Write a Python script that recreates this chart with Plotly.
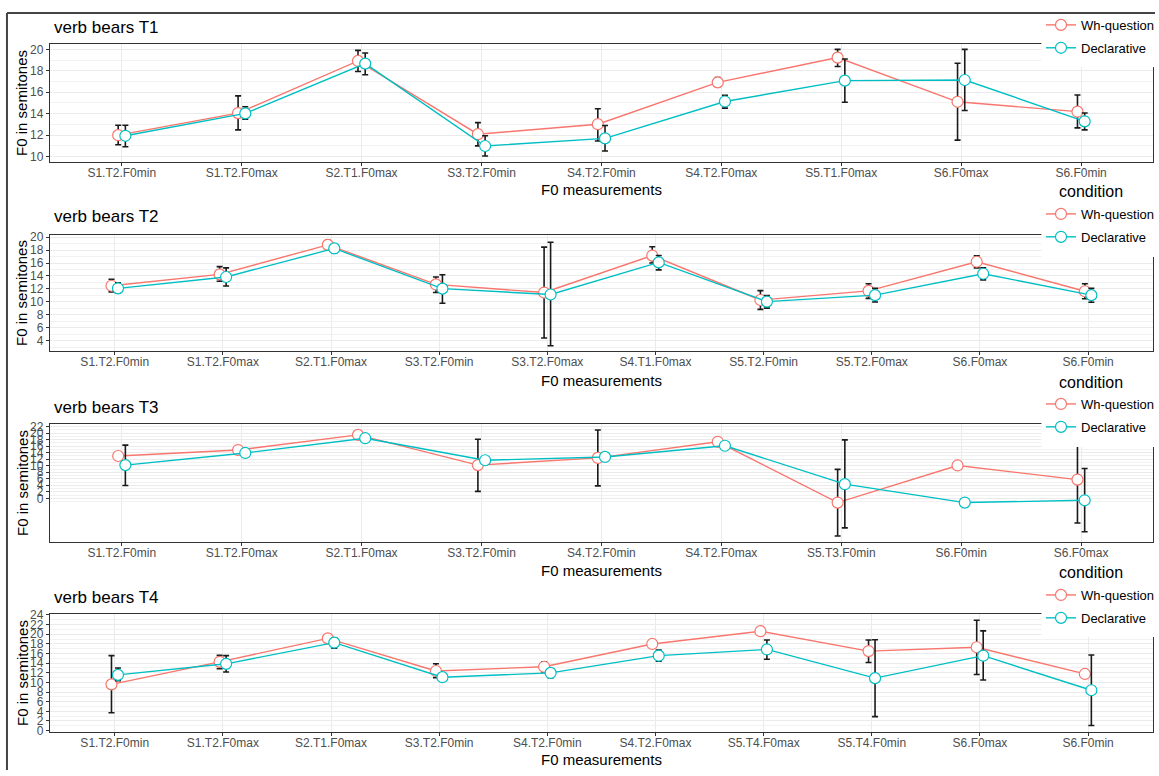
import plotly.graph_objects as go

# ---------------- data ----------------
series_names = ["Wh-question", "Declarative"]

cats1 = ["S1.T2.F0min", "S1.T2.F0max", "S2.T1.F0max", "S3.T2.F0min", "S4.T2.F0min",
         "S4.T2.F0max", "S5.T1.F0max", "S6.F0max", "S6.F0min"]
wh1 = [12.0, 14.06, 18.92, 12.09, 13.02, 16.92, 19.23, 15.11, 14.19]
wh1_hi = [12.92, 15.66, 19.9, 13.17, 14.46, 17.38, 20.0, 18.7, 15.75]
wh1_lo = [11.1, 12.49, 17.93, 11.0, 11.45, 16.52, 18.4, 11.54, 12.68]
de1 = [11.94, 14.03, 18.67, 10.99, 11.70, 15.14, 17.08, 17.14, 13.29]
de1_hi = [12.92, 14.65, 19.66, 11.94, 12.9, 15.72, 19.1, 20.0, 14.06]
de1_lo = [10.92, 13.48, 17.63, 10.06, 10.53, 14.52, 15.07, 14.3, 12.49]

cats2 = ["S1.T2.F0min", "S1.T2.F0max", "S2.T1.F0max", "S3.T2.F0min", "S3.T2.F0max",
         "S4.T1.F0max", "S5.T2.F0min", "S5.T2.F0max", "S6.F0max", "S6.F0min"]
wh2 = [12.5, 14.25, 18.8, 12.7, 11.45, 17.15, 10.3, 11.7, 16.2, 11.65]
wh2_hi = [13.5, 15.45, 19.5, 13.85, 18.45, 18.5, 11.75, 12.8, 17.1, 12.8]
wh2_lo = [11.55, 13.2, 18.1, 11.45, 4.45, 16.0, 8.85, 10.55, 15.25, 10.5]
de2 = [12.1, 13.85, 18.25, 12.05, 11.15, 16.1, 10.05, 11.05, 14.35, 11.05]
de2_hi = [12.95, 15.25, 18.75, 14.2, 19.2, 17.15, 11.0, 12.1, 15.25, 12.1]
de2_lo = [11.35, 12.45, 17.5, 9.8, 3.25, 14.95, 9.05, 10.0, 13.4, 9.95]

cats3 = ["S1.T2.F0min", "S1.T2.F0max", "S2.T1.F0max", "S3.T2.F0min", "S4.T2.F0min",
         "S4.T2.F0max", "S5.T3.F0min", "S6.F0min", "S6.F0max"]
wh3 = [13.0, 14.83, 19.48, 10.2, 12.41, 17.36, -1.31, 10.09, 5.75]
wh3_hi = [None, 16.0, None, 18.16, 20.99, None, 8.88, None, 19.07]
wh3_lo = [None, 13.7, None, 2.12, 3.83, None, -11.6, None, -7.57]
de3 = [10.2, 13.93, 18.47, 11.7, 12.71, 16.15, 4.34, -1.31, -0.61]
de3_hi = [16.35, None, None, None, None, None, 17.96, None, 9.18]
de3_lo = [3.94, None, None, None, None, None, -9.08, None, -10.29]

cats4 = ["S1.T2.F0min", "S1.T2.F0max", "S2.T1.F0max", "S3.T2.F0min", "S4.T2.F0min",
         "S4.T2.F0max", "S5.T4.F0max", "S5.T4.F0min", "S6.F0max", "S6.F0min"]
wh4 = [9.6, 14.27, 19.13, 12.37, 13.25, 17.98, 20.62, 16.5, 17.3, 11.76]
wh4_hi = [15.55, 15.6, 19.95, 13.86, 14.27, None, 21.3, 18.8, 22.9, None]
wh4_lo = [3.72, 12.85, 18.3, 11.0, 12.17, None, 19.95, 14.13, 11.63, None]
de4 = [11.56, 13.86, 18.26, 11.09, 11.97, 15.55, 16.84, 10.89, 15.55, 8.38]
de4_hi = [12.98, 15.55, 19.27, 11.8, 12.85, 16.7, 18.8, 18.86, 20.7, 15.7]
de4_lo = [10.34, 12.17, 17.1, 10.5, 11.0, 14.4, 14.8, 2.9, 10.5, 1.08]

titles = ["verb bears T1", "verb bears T2", "verb bears T3", "verb bears T4"]
y_major = [list(range(10, 21, 2)), list(range(4, 21, 2)), list(range(0, 23, 2)), list(range(0, 25, 2))]
y_minor = [list(range(11, 20, 2)), list(range(3, 20, 2)), list(range(-1, 22, 2)), list(range(1, 24, 2))]
y_ranges = [[9.54, 20.46], [2.5, 20.26], [-13.3, 22.7], [-0.2, 24.1]]

# ---------------- style / layout ----------------
W, H = 1159, 776
RED, TEAL = "#F8766D", "#00BFC4"
FONT = "Liberation Sans, Arial, sans-serif"
GRID = "#EBEBEB"
XL, XR = 50, 1157
panel_px = [  # top, bottom, title_y, xlabel_y, legend_first_entry_y, legend_box_top, legend_box_bottom
    (39, 158, 22, 186, 22, 9, 62),
    (233, 350, 214, 380, 214, 202, 255),
    (425, 544, 408, 573, 407, 395, 448),
    (618, 737, 601, 765, 601, 589, 641),
]
DODGE = 0.03
LEG_X = 1045

panels = [
    (cats1, wh1, wh1_hi, wh1_lo, de1, de1_hi, de1_lo),
    (cats2, wh2, wh2_hi, wh2_lo, de2, de2_hi, de2_lo),
    (cats3, wh3, wh3_hi, wh3_lo, de3, de3_hi, de3_lo),
    (cats4, wh4, wh4_hi, wh4_lo, de4, de4_hi, de4_lo),
]

fig = go.Figure()
layout = dict(width=W, height=H, margin=dict(l=0, r=0, t=0, b=0),
              paper_bgcolor="white", plot_bgcolor="white",
              font=dict(family=FONT, color="black"), showlegend=True)
annotations = []
shapes = []


def px_x(p):
    return p / W


def px_y(p):
    return 1 - p / H


for k, (cats, wh, wh_hi, wh_lo, de, de_hi, de_lo) in enumerate(panels):
    sfx = "" if k == 0 else str(k + 1)
    top, bot, ty, xly, lge, lgt, lgb = panel_px[k]
    n = len(cats)
    idx = list(range(n))
    for name, color, vals, hi, lo, off in [
        (series_names[0], RED, wh, wh_hi, wh_lo, -DODGE),
        (series_names[1], TEAL, de, de_hi, de_lo, DODGE),
    ]:
        xs = [i + off for i in idx]
        keep = [i for i in idx if hi[i] is not None]
        # error bars (drawn beneath points)
        fig.add_trace(go.Scatter(
            x=[xs[i] for i in keep], y=[vals[i] for i in keep],
            xaxis="x" + sfx, yaxis="y" + sfx, mode="markers",
            marker=dict(size=1, opacity=0), showlegend=False, hoverinfo="skip",
            error_y=dict(type="data", symmetric=False,
                         array=[hi[i] - vals[i] for i in keep],
                         arrayminus=[vals[i] - lo[i] for i in keep],
                         color="#1a1a1a", thickness=1.6, width=3),
        ))
        fig.add_trace(go.Scatter(
            x=xs, y=vals, xaxis="x" + sfx, yaxis="y" + sfx,
            name=name, legend="legend" + sfx, legendgroup=f"{name}{k}",
            mode="lines+markers",
            line=dict(color=color, width=1.4),
            marker=dict(symbol="circle", size=11, color="white",
                        line=dict(color=color, width=1.2)),
        ))
    layout["xaxis" + sfx] = dict(
        domain=[px_x(XL), px_x(XR)], anchor="y" + sfx,
        range=[-0.6, n - 0.4], tickmode="array", tickvals=idx, ticktext=cats,
        showgrid=True, gridcolor=GRID, gridwidth=1.2, zeroline=False,
        showline=True, mirror=True, linecolor="#333333", linewidth=1.2,
        ticks="outside", ticklen=3, tickcolor="#333333",
        tickfont=dict(size=12, color="#4D4D4D"), ticklabelstandoff=-3,
    )
    layout["yaxis" + sfx] = dict(
        domain=[px_y(bot), px_y(top)], anchor="x" + sfx,
        range=y_ranges[k], tickmode="array", tickvals=y_major[k],
        showgrid=True, gridcolor=GRID, gridwidth=1.2, zeroline=False,
        showline=True, mirror=True, linecolor="#333333", linewidth=1.2,
        ticks="outside", ticklen=3, tickcolor="#333333",
        tickfont=dict(size=12, color="#4D4D4D"),
        minor=dict(tickvals=y_minor[k], showgrid=True, gridcolor="#F2F2F2",
                   gridwidth=1, ticks=""),
    )
    layout["legend" + sfx] = dict(
        x=px_x(LEG_X), xanchor="left", y=px_y(lge - 18), yanchor="top",
        bgcolor="rgba(0,0,0,0)", borderwidth=0, font=dict(size=13, color="black"),
        traceorder="grouped", tracegroupgap=3, itemwidth=30,
    )
    # white legend background box (covers the panel like ggplot's legend)
    shapes.append(dict(type="rect", xref="paper", yref="paper", layer="above",
                       x0=px_x(LEG_X), x1=1.0, y0=px_y(lgb), y1=px_y(lgt),
                       fillcolor="white", line=dict(width=0)))
    annotations.append(dict(text=titles[k], x=px_x(52), y=px_y(ty), xref="paper", yref="paper",
                            xanchor="left", yanchor="middle", showarrow=False,
                            font=dict(size=17, color="black")))
    annotations.append(dict(text="F0 measurements", x=px_x((XL + XR) / 2), y=px_y(xly),
                            xref="paper", yref="paper", xanchor="center", yanchor="middle",
                            showarrow=False, font=dict(size=15, color="black")))
    annotations.append(dict(text="F0 in semitones", x=px_x(22), y=px_y((top + bot) / 2),
                            xref="paper", yref="paper", xanchor="center", yanchor="middle",
                            textangle=-90, showarrow=False, font=dict(size=15, color="black")))
    if k < 3:
        annotations.append(dict(text="condition", x=px_x(1095), y=px_y(xly + 2),
                                xref="paper", yref="paper", xanchor="center", yanchor="middle",
                                showarrow=False, font=dict(size=16, color="black")))

shapes += [
    dict(type="line", xref="paper", yref="paper", layer="above", x0=px_x(7), x1=1,
         y0=px_y(7), y1=px_y(7), line=dict(color="#444444", width=2)),
    dict(type="line", xref="paper", yref="paper", layer="above", x0=px_x(7), x1=px_x(7),
         y0=px_y(7), y1=0, line=dict(color="#444444", width=2)),
]
layout["annotations"] = annotations
layout["shapes"] = shapes
fig.update_layout(**layout)
fig.write_html("out.html", config={"displayModeBar": False},
               post_script="document.body.style.margin='0';document.body.style.overflow='hidden';")
